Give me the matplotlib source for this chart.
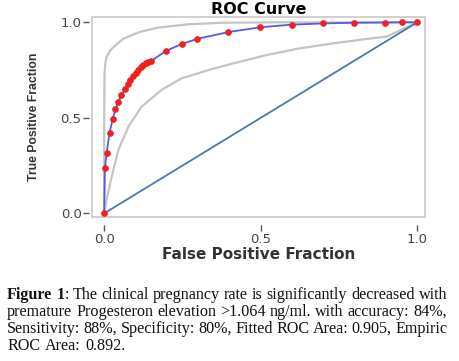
import matplotlib
matplotlib.use('Agg')
import matplotlib.pyplot as plt
from matplotlib.patches import Rectangle

fpf = [0.0, 0.002, 0.008, 0.017, 0.027, 0.036, 0.045, 0.055, 0.065, 0.075,
       0.084, 0.093, 0.101, 0.109, 0.117, 0.125, 0.133, 0.141, 0.149,
       0.197, 0.247, 0.298, 0.397, 0.497, 0.599, 0.698, 0.798, 0.897, 0.95, 1.0]
tpf = [0.0, 0.236, 0.317, 0.422, 0.492, 0.544, 0.584, 0.619, 0.649, 0.675,
       0.698, 0.717, 0.736, 0.752, 0.766, 0.776, 0.785, 0.792, 0.797,
       0.850, 0.886, 0.914, 0.949, 0.974, 0.988, 0.994, 0.998, 0.999, 1.0, 1.0]

# confidence band curves
upper_x = [0.0, 0.0, 0.001, 0.004, 0.008, 0.018, 0.03, 0.06, 0.11, 0.17, 0.27, 0.38, 0.55, 1.0]
upper_y = [0.0, 0.5, 0.733, 0.79, 0.82, 0.85, 0.872, 0.913, 0.948, 0.972, 0.99, 0.998, 1.0, 1.0]
lower_x = [0.0, 0.01, 0.024, 0.045, 0.077, 0.119, 0.183, 0.247, 0.343, 0.412,
           0.519, 0.625, 0.732, 0.838, 0.902, 1.0]
lower_y = [0.0, 0.09, 0.192, 0.331, 0.453, 0.558, 0.646, 0.707, 0.755, 0.785,
           0.829, 0.864, 0.89, 0.913, 0.925, 1.0]

ticks = [0.0, 0.5, 1.0]
tick_labels = ['0.0', '0.5', '1.0']

caption = [
    [[('Figure', 'bold')], [('1', 'bold'), (':', 'normal')], 'The clinical pregnancy rate is significantly decreased with'],
    ['premature Progesteron elevation >1.064 ng/ml. with accuracy: 84%,'],
    ['Sensitivity: 88%, Specificity: 80%, Fitted ROC Area: 0.905, Empiric'],
    ['ROC Area: 0.892.'],
]

W, H = 460, 361
fig = plt.figure(figsize=(W / 100, H / 100), dpi=100)
ax = fig.add_axes([92 / W, 1 - 217 / H, 333 / W, 200 / H])

ax.plot(upper_x, upper_y, color='#c4c4c4', lw=1.6)
ax.plot(lower_x, lower_y, color='#c4c4c4', lw=1.6)
ax.plot([0, 1], [0, 1], color='#4a79ad', lw=1.3)
ax.plot(fpf, tpf, color='#5858e6', lw=1.3)
ax.plot(fpf, tpf, 'o', color='#ee2020', ms=3.8, mec='#ee2020')

ax.set_xlim(-0.039, 1.025)
ax.set_ylim(-0.019, 1.028)

for s in ax.spines.values():
    s.set_visible(False)
ax.spines['bottom'].set_position(('outward', 6))
ax.spines['left'].set_position(('outward', 2))
ax.add_patch(Rectangle((0, 0), 1, 1, transform=ax.transAxes, fill=False,
                       ec='#c8c8c8', lw=1.2, clip_on=False))

ax.set_xticks(ticks)
ax.set_xticklabels(tick_labels)
ax.set_yticks(ticks)
ax.set_yticklabels(tick_labels)
ax.tick_params(direction='out', length=4.5, width=1, color='#555555',
               labelcolor='#444444', labelsize=9.5, pad=1)

ax.set_title('ROC Curve', fontsize=11.5, fontweight='bold', pad=2)
ax.set_xlabel('False Positive Fraction', fontsize=11, fontweight='bold',
              color='#333333', labelpad=1)
ax.set_ylabel('True Positive Fraction', fontsize=8.8, fontweight='bold',
              family='Liberation Sans', color='#333333', labelpad=15)

# justified caption
fig.canvas.draw()
r = fig.canvas.get_renderer()
x0, x1 = 7, 447
baselines = [299, 316, 333, 350]
fs = 11.6
for li, line in enumerate(caption):
    tokens = []
    for item in line:
        if isinstance(item, str):
            tokens += [[(w, 'normal')] for w in item.split()]
        else:
            tokens.append(item)
    objs = []
    widths = []
    for tok in tokens:
        parts = []
        tw = 0
        for txt, wt in tok:
            t = fig.text(0, 1 - baselines[li] / H, txt, fontsize=fs, fontweight=wt,
                         family='Liberation Serif', color='#111111', va='baseline')
            pw = t.get_window_extent(r).width
            parts.append((t, tw))
            tw += pw
        objs.append(parts)
        widths.append(tw)
    if li < len(caption) - 1:
        gap = (x1 - x0 - sum(widths)) / (len(tokens) - 1)
    else:
        gap = fs * 1.39 * 0.3
    x = x0
    for parts, tw in zip(objs, widths):
        for t, off in parts:
            t.set_x((x + off) / W)
        x += tw + gap

fig.savefig('out.png', dpi=100)
